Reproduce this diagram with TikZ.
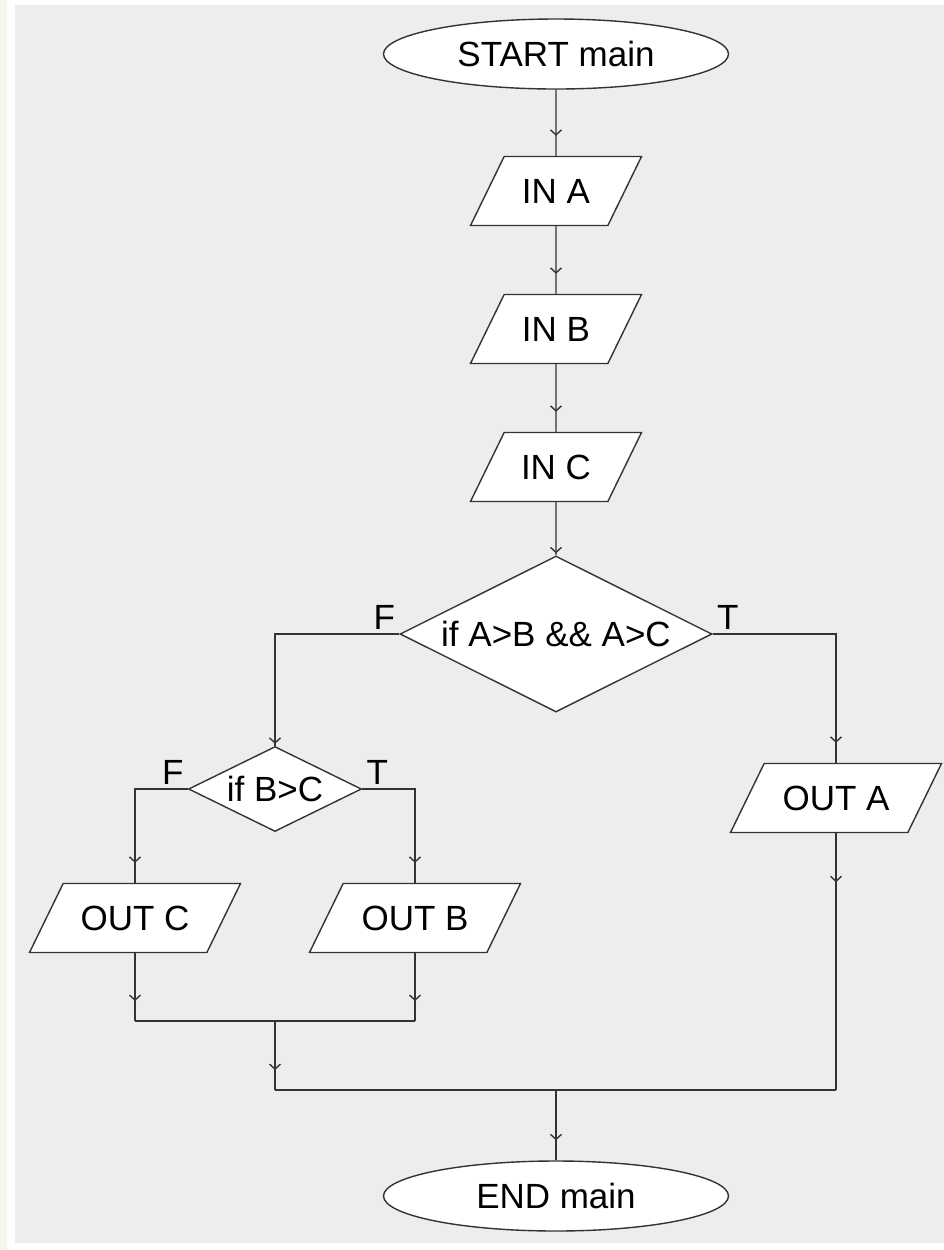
\documentclass[tikz,border=0pt]{standalone}
\usepackage{fontspec}
\setmainfont{Liberation Sans}
\usetikzlibrary{shapes.geometric,arrows.meta,decorations.markings,calc}

\definecolor{panelgray}{HTML}{EDEDED}
\definecolor{stripcream}{HTML}{F6F4EC}
\definecolor{linegray}{HTML}{333333}

\begin{document}
\begin{tikzpicture}[x=0.5pt, y=-0.5pt, font=\fontsize{17.5}{20}\selectfont,
    flow/.style={draw=linegray, line width=0.7pt, postaction={decorate},
      decoration={markings, mark=at position #1 with {\arrow{Straight Barb[length=2.5pt,width=5.5pt]}}}},
    flow/.default=-10pt]
  \tikzstyle{terminal} = [ellipse, draw=linegray, fill=white, line width=0.7pt,
    minimum width=172.5pt, minimum height=35pt, inner sep=0pt]
  \tikzstyle{io} = [trapezium, trapezium left angle=64, trapezium right angle=116,
    trapezium stretches body=true, draw=linegray, fill=white, line width=0.7pt,
    text height=12.5pt, text depth=0pt, inner ysep=11pt, inner xsep=0pt,
    minimum width=85.5pt]
  \tikzstyle{wideio} = [io, minimum width=105.5pt]
  \tikzstyle{decision} = [diamond, aspect=2, draw=linegray, fill=white, line width=0.7pt, inner sep=0pt]
  \tikzstyle{link} = [draw=linegray, line width=0.7pt]
  \tikzstyle{branch} = [inner sep=2pt]

  % page and panel
  \useasboundingbox (0,0) rectangle (944,1250);
  \fill[stripcream] (0,0) rectangle (7,1250);
  \fill[panelgray] (15,5) rectangle (944,1243);

  \node (start) [terminal] at (556,54) {START main};
  \node (inA) [io] at (556,191) {IN A};
  \node (inB) [io] at (556,329) {IN B};
  \node (inC) [io] at (556,467) {IN C};
  \node (cond1) [decision, minimum width=156pt, minimum height=78pt] at (556,634) {if A>B \&\& A>C};
  \node (cond2) [decision, minimum width=86.5pt, minimum height=42.5pt] at (275,789) {if B>C};
  \node (outA) [wideio] at (836,798) {OUT A};
  \node (outC) [wideio] at (135,918) {OUT C};
  \node (outB) [wideio] at (415,918) {OUT B};
  \node (end) [terminal] at (556,1196) {END main};
  \coordinate (join1) at (275,1021);
  \coordinate (join2) at (556,1090);

  % branch labels
  \node (cond1F) [branch, anchor=south east] at (cond1.west) {F};
  \node (cond1T) [branch, anchor=south west] at (cond1.east) {T};
  \node (cond2F) [branch, anchor=south east] at (cond2.west) {F};
  \node (cond2T) [branch, anchor=south west] at (cond2.east) {T};

  \draw[flow] (start) -- (inA);
  \draw[flow] (inA) -- (inB);
  \draw[flow] (inB) -- (inC);
  \draw[flow=-1pt] (inC) -- (cond1.north);
  \draw[flow=-1pt] (cond1.west) -| (cond2.north);
  \draw[flow] (cond1.east) -| (outA.north);
  \draw[flow] (cond2.west) -| (outC.north);
  \draw[flow] (cond2.east) -| (outB.north);
  \draw[flow] (outC.south) -- (outC.south |- join1);
  \draw[flow] (outB.south) -- (outB.south |- join1);
  \draw[link] (outC.south |- join1) -- (outB.south |- join1);
  \draw[flow] (join1) -- (join1 |- join2);
  \draw[flow=24.5pt] (outA.south) -- (outA.south |- join2);
  \draw[link] (join1 |- join2) -- (outA.south |- join2);
  \draw[flow] (join2) -- (end);
\end{tikzpicture}
\end{document}
